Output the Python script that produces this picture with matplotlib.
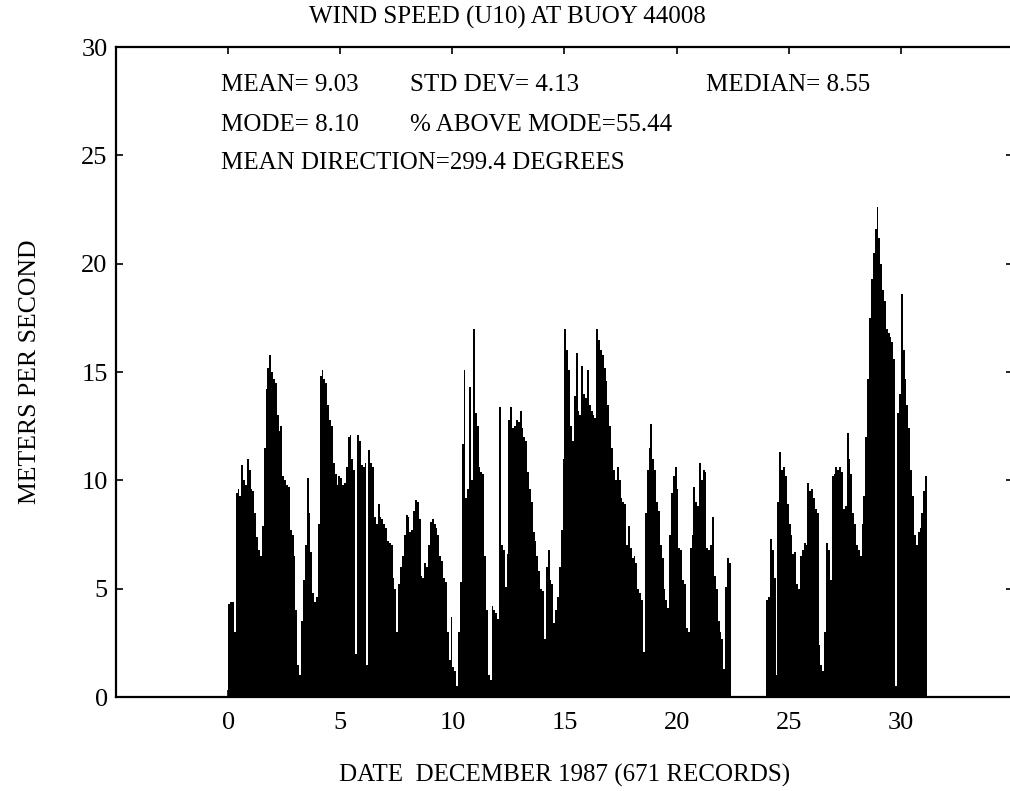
import numpy as np
import matplotlib
matplotlib.use("Agg")
import matplotlib.pyplot as plt

plt.rcParams["font.family"] = ["Liberation Serif", "DejaVu Serif"]

# vind (m/s) hver 2. time
step = 1 / 12  # dager

# 1. - 22. desember
start_a = 0.0
speed_a = [
    4.3, 4.4, 4.4, 3.0, 9.4, 9.6, 9.3, 10.7, 10.0, 9.8, 11.0, 10.5,          # dag 0
    9.6, 9.5, 8.5, 7.4, 6.8, 6.5, 7.9, 11.5, 14.2, 15.2, 15.8, 15.0,         # dag 1
    14.7, 14.5, 13.0, 12.3, 12.5, 10.2, 10.0, 9.8, 9.7, 7.7, 7.5, 6.5,       # dag 2
    4.0, 1.5, 1.0, 3.5, 5.4, 7.0, 10.1, 8.5, 6.7, 4.8, 4.4, 4.6,             # dag 3
    8.0, 14.8, 15.1, 14.7, 14.5, 13.5, 12.8, 12.5, 10.8, 10.3, 9.8, 10.2,    # dag 4
    10.1, 9.8, 9.9, 10.6, 12.0, 12.1, 11.0, 10.5, 2.0, 12.1, 11.8, 10.7,     # dag 5
    10.6, 10.8, 1.5, 11.4, 10.8, 10.6, 8.3, 8.0, 8.9, 8.3, 8.2, 8.0,         # dag 6
    7.8, 7.2, 7.1, 7.0, 5.5, 5.0, 3.0, 5.2, 6.0, 6.5, 7.5, 8.4,              # dag 7
    8.3, 7.6, 7.7, 8.6, 9.1, 9.0, 8.2, 5.6, 5.5, 6.2, 6.0, 7.0,              # dag 8
    8.1, 8.2, 8.0, 7.8, 7.5, 6.5, 6.3, 5.5, 5.3, 3.0, 1.7, 3.7,              # dag 9
    1.4, 1.2, 0.5, 3.0, 5.3, 11.7, 15.1, 9.2, 9.6, 14.3, 10.0, 17.0,         # dag 10
    13.1, 12.5, 10.6, 10.4, 10.3, 6.5, 4.0, 1.0, 0.8, 4.2, 4.0, 3.9,         # dag 11
    3.6, 13.4, 7.0, 6.8, 5.1, 6.6, 12.8, 13.4, 12.4, 12.5, 12.8, 12.7,       # dag 12
    13.2, 12.4, 12.0, 11.8, 10.4, 9.6, 9.0, 7.6, 7.2, 6.5, 5.8, 5.0,         # dag 13
    4.9, 2.7, 6.0, 6.8, 5.4, 5.2, 3.4, 4.0, 4.6, 6.0, 7.7, 11.0,             # dag 14
    17.0, 16.0, 15.1, 12.5, 11.8, 13.9, 15.9, 13.2, 13.0, 15.3, 14.0, 13.8,  # dag 15
    15.1, 13.5, 13.2, 13.0, 12.9, 17.0, 16.5, 16.0, 15.8, 15.2, 14.6, 13.5,  # dag 16
    12.5, 11.5, 10.5, 10.0, 10.6, 10.0, 9.2, 9.0, 8.9, 7.0, 7.9, 6.9,        # dag 17
    6.4, 6.5, 6.2, 5.0, 4.8, 4.5, 2.1, 8.5, 10.5, 11.5, 12.6, 11.0,          # dag 18
    10.5, 9.0, 8.6, 7.0, 6.4, 5.0, 4.5, 4.1, 7.5, 9.4, 10.2, 10.6,           # dag 19
    9.6, 6.9, 6.8, 5.4, 5.2, 3.2, 3.0, 6.9, 7.5, 9.7, 9.0, 8.8,              # dag 20
    10.8, 10.0, 10.5, 10.4, 6.9, 6.8, 7.0, 8.3, 5.6, 5.0, 3.5, 3.0,          # dag 21
    2.7, 1.3, 5.1, 6.4, 6.2,                                                 # dag 22
]

# 24. - 31. desember
start_b = 24.0
speed_b = [
    4.5, 4.6, 7.3, 6.8, 5.5, 1.0, 9.0, 11.3, 10.5, 10.6, 10.2, 8.9,          # dag 24
    8.0, 7.5, 6.6, 6.7, 5.2, 5.0, 6.5, 6.8, 7.1, 7.0, 9.9, 9.5,              # dag 25
    9.6, 9.2, 8.7, 8.5, 2.4, 1.5, 1.2, 3.0, 7.1, 6.8, 5.4, 10.2,             # dag 26
    10.3, 10.6, 10.5, 10.6, 10.4, 8.7, 8.8, 12.2, 11.0, 10.3, 8.5, 8.0,      # dag 27
    7.0, 6.8, 6.5, 8.0, 9.3, 12.0, 14.7, 17.5, 19.3, 20.5, 21.6, 22.6,       # dag 28
    21.2, 20.0, 18.8, 18.3, 17.0, 16.8, 16.6, 16.4, 15.6, 0.5, 13.1, 14.0,   # dag 29
    18.6, 16.0, 14.7, 13.5, 12.4, 10.5, 9.3, 7.5, 7.0, 7.6, 7.8, 8.5,        # dag 30
    9.5, 10.2,                                                               # dag 31
]

yticks = [0, 5, 10, 15, 20, 25, 30]
xticks = [0, 5, 10, 15, 20, 25, 30]

stats = [
    ("MEAN= 9.03", -0.3, 28.25),
    ("STD DEV= 4.13", 8.1, 28.25),
    ("MEDIAN= 8.55", 21.3, 28.25),
    ("MODE= 8.10", -0.3, 26.4),
    ("% ABOVE MODE=55.44", 8.1, 26.4),
    ("MEAN DIRECTION=299.4 DEGREES", -0.3, 24.65),
]

fig = plt.figure(figsize=(10.10, 7.91), dpi=100)
ax = fig.add_axes([0.1149, 0.1188, 0.888, 0.8217])

xa = start_a + np.arange(len(speed_a)) * step
xb = start_b + np.arange(len(speed_b)) * step
ax.bar(xa, speed_a, width=step, align="edge", color="black", linewidth=0)
ax.bar(xb, speed_b, width=step, align="edge", color="black", linewidth=0)

ax.set_xlim(-5, 35)
ax.set_ylim(0, 30)
ax.set_xticks(xticks)
ax.set_yticks(yticks)
ax.tick_params(direction="in", top=True, right=True, length=5, width=1.2,
               labelsize=19)
ax.tick_params(axis="x", pad=11)
ax.tick_params(axis="y", pad=6)
for s in ax.spines.values():
    s.set_linewidth(1.6)

for txt, x, y in stats:
    ax.text(x, y, txt, fontsize=18, va="center", ha="left")

fig.text(507 / 1010, 1 - 17 / 791, "WIND SPEED (U10) AT BUOY 44008",
         fontsize=18, ha="center", va="center")
fig.text(565 / 1010, 1 - 775 / 791, "DATE  DECEMBER 1987 (671 RECORDS)",
         fontsize=18, ha="center", va="center")
fig.text(30 / 1010, 1 - 372 / 791, "METERS PER SECOND", fontsize=18.5,
         ha="center", va="center", rotation=90)

fig.savefig("out.png", dpi=100)
